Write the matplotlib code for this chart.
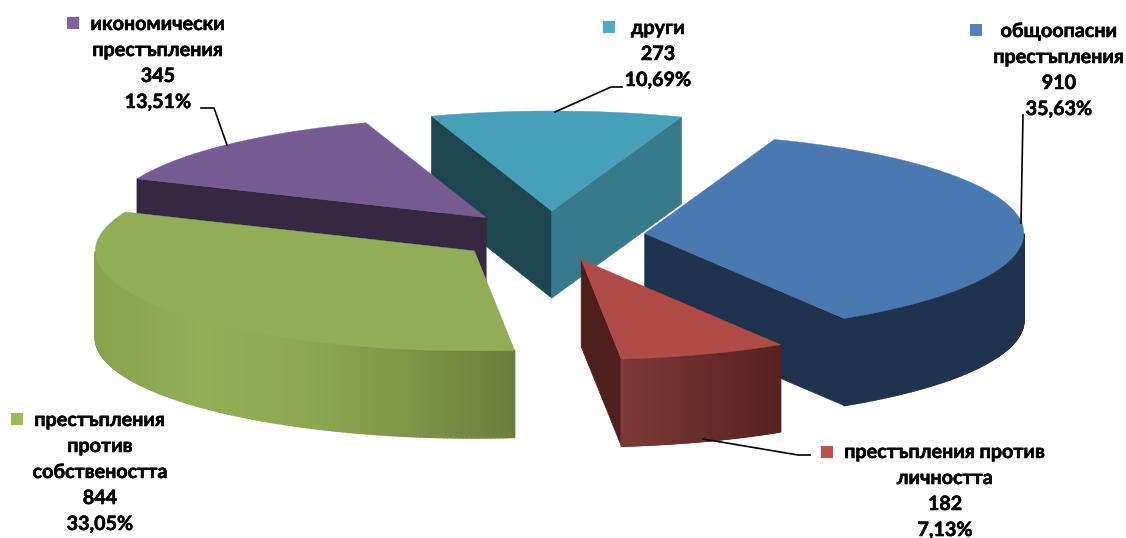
import numpy as np
import matplotlib
matplotlib.use('Agg')
import matplotlib.pyplot as plt
import matplotlib.patheffects as pe
from matplotlib.colors import LinearSegmentedColormap
from matplotlib.collections import PolyCollection

plt.rcParams['font.family'] = ['Lato', 'Noto Sans', 'DejaVu Sans']

# data, clockwise from the first slice
categories = ['общоопасни\nпрестъпления', 'престъпления против\nличността',
              'престъпления\nпротив\nсобствеността', 'икономически\nпрестъпления', 'други']
values = [910, 182, 844, 345, 273]
percents = ['35,63%', '7,13%', '33,05%', '13,51%', '10,69%']

key_colors = ['#4F81BD', '#C0504D', '#9BBB59', '#8064A2', '#4BACC6']
top_colors = ['#4A78B0', '#B14B47', '#91AD55', '#775B93', '#46A0B9']
side_colors = ['#1F334F', '#4E1F1D', '#6C7F3C', '#342842', '#1E4650']
end_colors = ['#1F334F', '#4E1F1D', '#6C7F3C', '#342842', '#377A8C']
wall_ramps = [['#1F334F', '#1F334F'], ['#7B3A36', '#58221F'],
              ['#88A24E', '#93AF55', '#8DA851', '#7C9547', '#6C7F3C'],
              ['#342842', '#342842'], ['#377A8C', '#377A8C']]

# pixel layout of the 3d pie
CX, CY = 550.5, 236
RX, RY = 379, 100
DEPTH = 87
EXPLODE = 0.25
START = 20.0

# label centre x, first line y, key square x,y
label_x = [1059, 945, 100, 158, 658]
label_y = [31, 452, 420, 24, 28]
key_x = [976, 827, 17, 73, 609]
key_y = [30, 452, 419, 23, 27]
LINE_H = 26

# leader lines
leaders = [([1023, 1021], [115, 223]),
           ([703, 798, 810], [439, 455, 455]),
           None,
           ([201, 214, 227], [108, 108, 145]),
           ([622, 611, 555], [87, 87, 112])]

# painter order, back to front
draw_order = [4, 3, 0, 2, 1]


def project(deg, r, ox, oy):
    a = np.radians(deg)
    return ox + RX * r * np.sin(a), oy - RY * r * np.cos(a)


def drawSlice(ax, i, a0, a1):
    mid = (a0 + a1) / 2
    ox, oy = project(mid, EXPLODE, CX, CY)
    arc = np.linspace(a0, a1, 200)
    ax_, ay_ = project(arc, 1.0, ox, oy)

    # flat walls, only the ones facing the viewer
    if np.sin(np.radians(a0)) < 0:
        x, y = project(a0, 1.0, ox, oy)
        ax.fill([ox, x, x, ox], [oy, y, y + DEPTH, oy + DEPTH], color=side_colors[i], lw=0.5, zorder=10)
    if np.sin(np.radians(a1)) > 0:
        x, y = project(a1, 1.0, ox, oy)
        ax.fill([ox, x, x, ox], [oy, y, y + DEPTH, oy + DEPTH], color=end_colors[i], lw=0.5, zorder=10)

    # outer wall, shaded along x
    front = np.cos(np.radians(arc)) < 0
    if front.any():
        xs, ys = ax_[front], ay_[front]
        cmap = LinearSegmentedColormap.from_list('w', wall_ramps[i])
        t = (xs - xs.min()) / max(xs.max() - xs.min(), 1)
        quads = [[(xs[k], ys[k]), (xs[k + 1], ys[k + 1]), (xs[k + 1], ys[k + 1] + DEPTH), (xs[k], ys[k] + DEPTH)]
                 for k in range(len(xs) - 1)]
        cols = cmap((t[:-1] + t[1:]) / 2)
        ax.add_collection(PolyCollection(quads, facecolors=cols, edgecolors=cols, linewidths=1.2, zorder=10))

    ax.fill(np.r_[ox, ax_], np.r_[oy, ay_], color=top_colors[i], lw=0.3, zorder=10)


fig = plt.figure(figsize=(11.26, 5.38), dpi=100)
ax = fig.add_axes([0, 0, 1, 1])
ax.set_xlim(0, 1126)
ax.set_ylim(538, 0)
ax.axis('off')

spans = np.array(values) / sum(values) * 360
starts = START + np.r_[0, np.cumsum(spans)[:-1]]

for i in draw_order:
    drawSlice(ax, i, starts[i], starts[i] + spans[i])

for i in range(len(values)):
    lines = categories[i].split('\n') + [str(values[i]), percents[i]]
    for n, line in enumerate(lines):
        ax.text(label_x[i], label_y[i] + n * LINE_H, line, ha='center', va='center',
                fontsize=14.2, fontweight='bold', color='black', zorder=20,
                path_effects=[pe.withStroke(linewidth=0.4, foreground='black')])
    ax.scatter([key_x[i]], [key_y[i]], marker='s', s=74, color=key_colors[i], linewidths=0, zorder=20)
    if leaders[i] is not None:
        ax.plot(leaders[i][0], leaders[i][1], color='black', lw=1.2, zorder=15)

fig.savefig('out.png', dpi=100)
